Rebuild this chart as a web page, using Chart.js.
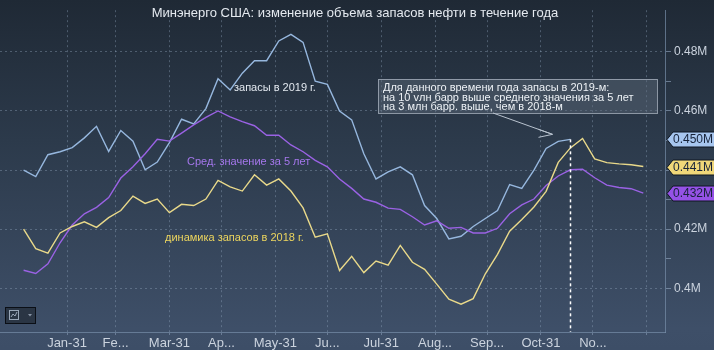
<!DOCTYPE html>
<html>
<head>
<meta charset="utf-8">
<script src="https://cdn.jsdelivr.net/npm/chart.js@4"></script>
<style>
  html, body { margin: 0; padding: 0; background: #2c3b4f; }
  #wrap {
    width: 714px; height: 350px; position: relative;
    background: linear-gradient(to bottom, #1f2935 0%, #2c3a4b 40%, #3e4f68 94%, #3d4e67 100%);
  }
</style>
</head>
<body>
<div id="wrap"><canvas id="stocksChart" width="714" height="350"></canvas></div>
<script>
// day of year for each weekly report
const weekDays = [6, 13, 20, 27, 34, 41, 48, 55, 62, 69, 76, 83, 90, 97, 104, 111, 118, 125,
    132, 139, 146, 153, 160, 167, 174, 181, 188, 195, 202, 209, 216, 223, 230, 237, 244, 251,
    258, 265, 272, 279, 286, 293, 300, 307, 314, 321, 328, 335, 342, 349, 356, 363];

// crude stocks, 2019 (data up to mid-November)
const stocks2019 = [0.4400, 0.4378, 0.4452, 0.4462, 0.4476, 0.4509, 0.4548, 0.4463, 0.4534, 0.4498,
    0.4401, 0.4427, 0.4493, 0.4572, 0.4556, 0.4608, 0.4709, 0.4671, 0.4728, 0.4770,
    0.4770, 0.4837, 0.4859, 0.4832, 0.4701, 0.4690, 0.4600, 0.4570, 0.4455, 0.4370,
    0.4394, 0.4411, 0.4384, 0.4280, 0.4236, 0.4167, 0.4176, 0.4209, 0.4236, 0.4263,
    0.4351, 0.4338, 0.4400, 0.4473, 0.4497, 0.4504];

// 5-year average
const avg5y = [0.4061, 0.4050, 0.4083, 0.4154, 0.4214, 0.4252, 0.4274, 0.4307, 0.4373, 0.4411,
    0.4455, 0.4504, 0.4498, 0.4525, 0.4553, 0.4578, 0.4600, 0.4580, 0.4564, 0.4550,
    0.4518, 0.4518, 0.4485, 0.4462, 0.4433, 0.4411, 0.4370, 0.4338, 0.4302, 0.4291,
    0.4271, 0.4267, 0.4242, 0.4214, 0.4228, 0.4203, 0.4206, 0.4187, 0.4187, 0.4203,
    0.4252, 0.4282, 0.4302, 0.4348, 0.4380, 0.4401, 0.4403, 0.4374, 0.4349, 0.4341,
    0.4337, 0.4322];

// crude stocks, 2018
const stocks2018 = [0.4200, 0.4134, 0.4119, 0.4187, 0.4209, 0.4225, 0.4206, 0.4239, 0.4263, 0.4312,
    0.4287, 0.4302, 0.4256, 0.4284, 0.4280, 0.4302, 0.4365, 0.4343, 0.4329, 0.4384,
    0.4349, 0.4370, 0.4329, 0.4272, 0.4173, 0.4184, 0.4060, 0.4108, 0.4053, 0.4092,
    0.4078, 0.4145, 0.4088, 0.4064, 0.4014, 0.3963, 0.3946, 0.3965, 0.4049, 0.4115,
    0.4193, 0.4233, 0.4275, 0.4328, 0.4426, 0.4475, 0.4507, 0.4438, 0.4425, 0.4421,
    0.4418, 0.4412];

// month-end ticks on the x axis
const monthEnds = [31, 59, 90, 120, 151, 181, 212, 243, 273, 304, 334, 365];
const monthLabels = ['Jan-31', 'Fe...', 'Mar-31', 'Ap...', 'May-31', 'Ju...', 'Jul-31',
    'Aug...', 'Sep...', 'Oct-31', 'No...', ''];

// y ticks: every 0.01, labelled at 0.02 steps
const yTicks = [0.40, 0.41, 0.42, 0.43, 0.44, 0.45, 0.46, 0.47, 0.48];

const FONT = '"Liberation Sans", Arial, sans-serif';
const BLUE = '#96b7de';
const PURPLE = '#9a62e4';
const YELLOW = '#e9d98a';

const toPoints = arr => arr.map((v, i) => ({ x: weekDays[i], y: v }));

const isMajor = v => Math.round(v * 100) % 2 === 0;

const overlay = {
    id: 'overlay',
    afterDraw(chart) {
        const { ctx, chartArea, scales } = chart;
        const xs = scales.x, ys = scales.y;
        ctx.save();

        // title
        ctx.font = '13px ' + FONT;
        ctx.fillStyle = '#e4e9ef';
        ctx.textAlign = 'center';
        ctx.textBaseline = 'middle';
        ctx.fillText('Минэнерго США: изменение объема запасов нефти в течение года', 355, 13);

        // series labels
        ctx.font = '11px ' + FONT;
        ctx.textAlign = 'left';
        ctx.fillStyle = '#e2e8ef';
        ctx.fillText('запасы в 2019 г.', 234, 88);
        ctx.fillStyle = '#a577ec';
        ctx.fillText('Сред. значение за 5 лет', 187, 162);
        ctx.fillStyle = '#ecd55e';
        ctx.fillText('динамика запасов в 2018 г.', 165, 238);

        // dotted marker at the latest 2019 report
        const last = stocks2019.length - 1;
        const lx = Math.round(xs.getPixelForValue(weekDays[last])) + 0.5;
        const ly = ys.getPixelForValue(stocks2019[last]);
        ctx.strokeStyle = '#ffffff';
        ctx.lineWidth = 1.5;
        ctx.setLineDash([3, 3]);
        ctx.beginPath();
        ctx.moveTo(lx, ly);
        ctx.lineTo(lx, chartArea.bottom);
        ctx.stroke();
        ctx.setLineDash([]);

        // comment box
        const bx = 378, by = 79, bw = 279, bh = 34;
        ctx.fillStyle = 'rgba(95,108,124,0.45)';
        ctx.fillRect(bx, by, bw, bh);
        ctx.strokeStyle = 'rgba(165,175,188,0.8)';
        ctx.lineWidth = 1;
        ctx.strokeRect(bx + 0.5, by + 0.5, bw, bh);
        ctx.fillStyle = '#eef2f6';
        ctx.font = '11px ' + FONT;
        ctx.textBaseline = 'middle';
        ctx.fillText('Для данного времени года запасы в 2019-м:', 383, 88);
        ctx.fillText('на 10 vлн барр выше среднего значения за 5 лет', 383, 97.5);
        ctx.fillText('на 3 млн барр. выше, чем в 2018-м', 383, 107);

        // arrow from the box towards the latest point
        const tx = lx - 18, ty = ly - 5;
        ctx.strokeStyle = '#b9c3cf';
        ctx.lineWidth = 1;
        ctx.beginPath();
        ctx.moveTo(493, 113);
        ctx.lineTo(tx, ty);
        ctx.moveTo(tx - 14, ty - 5);
        ctx.lineTo(tx, ty);
        ctx.lineTo(tx - 14, ty + 3);
        ctx.stroke();

        // last-value tags on the right axis
        const tags = [
            { v: stocks2019[last], fill: '#a7c6ef' },
            { v: stocks2018[stocks2018.length - 1], fill: '#f0d779' },
            { v: avg5y[avg5y.length - 1], fill: '#9552e6' }
        ];
        ctx.font = '12px ' + FONT;
        tags.forEach(t => {
            const cy = Math.round(ys.getPixelForValue(t.v)) + 0.5;
            const x0 = chartArea.right + 2;
            ctx.beginPath();
            ctx.moveTo(x0, cy);
            ctx.lineTo(x0 + 6, cy - 7.5);
            ctx.lineTo(716, cy - 7.5);
            ctx.lineTo(716, cy + 7.5);
            ctx.lineTo(x0 + 6, cy + 7.5);
            ctx.closePath();
            ctx.fillStyle = t.fill;
            ctx.fill();
            ctx.strokeStyle = '#0e1622';
            ctx.stroke();
            ctx.fillStyle = '#17233a';
            ctx.textAlign = 'left';
            ctx.fillText(t.v.toFixed(3) + 'M', x0 + 6, cy + 0.5);
        });

        // chart-type button bottom left
        ctx.fillStyle = '#2a3544';
        ctx.fillRect(5, 307, 30, 16);
        ctx.strokeStyle = '#0b0f16';
        ctx.strokeRect(5.5, 307.5, 30, 16);
        ctx.strokeStyle = '#9aa7b8';
        ctx.strokeRect(9.5, 310.5, 9, 9);
        ctx.beginPath();
        ctx.moveTo(11, 317);
        ctx.lineTo(13, 314);
        ctx.lineTo(15, 316);
        ctx.lineTo(17, 312);
        ctx.stroke();
        ctx.fillStyle = '#8793a4';
        ctx.beginPath();
        ctx.moveTo(28, 314);
        ctx.lineTo(32, 314);
        ctx.lineTo(30, 316.5);
        ctx.closePath();
        ctx.fill();

        ctx.restore();
    }
};

new Chart(document.getElementById('stocksChart'), {
    type: 'line',
    data: {
        datasets: [
            { label: '2018', data: toPoints(stocks2018), borderColor: YELLOW },
            { label: '5y', data: toPoints(avg5y), borderColor: PURPLE },
            { label: '2019', data: toPoints(stocks2019), borderColor: BLUE }
        ]
    },
    options: {
        responsive: false,
        animation: false,
        layout: { padding: 0 },
        elements: {
            line: { borderWidth: 1.4, tension: 0 },
            point: { radius: 0 }
        },
        plugins: {
            legend: { display: false },
            tooltip: { enabled: false }
        },
        scales: {
            x: {
                type: 'linear',
                min: -7.6,
                max: 375.5,
                afterBuildTicks: s => { s.ticks = monthEnds.map(v => ({ value: v })); },
                afterFit: s => { s.height = 18; },
                ticks: {
                    autoSkip: false,
                    maxRotation: 0,
                    padding: 1,
                    color: '#cbd3de',
                    font: { family: FONT, size: 13 },
                    callback: (v, i) => monthLabels[i]
                },
                grid: {
                    color: 'rgba(150,170,195,0.38)',
                    tickColor: 'rgba(150,170,195,0.5)',
                    tickLength: 3
                },
                border: { display: true, color: 'rgba(120,142,170,0.7)', dash: [2, 3] }
            },
            y: {
                position: 'right',
                min: 0.3852,
                max: 0.4941,
                afterBuildTicks: s => { s.ticks = yTicks.map(v => ({ value: v })); },
                afterFit: s => { s.width = 49; },
                ticks: {
                    padding: 3,
                    color: '#cbd3de',
                    font: { family: FONT, size: 12 },
                    callback: v => (isMajor(v) && Math.round(v * 100) !== 44)
                        ? parseFloat(v.toFixed(2)) + 'M' : ''
                },
                grid: {
                    color: c => isMajor(c.tick.value) ? 'rgba(150,170,195,0.38)' : 'rgba(0,0,0,0)',
                    tickColor: 'rgba(150,170,195,0.6)',
                    tickLength: 6
                },
                border: { display: true, color: 'rgba(120,142,170,0.7)', dash: [2, 3] }
            }
        }
    },
    plugins: [overlay]
});
</script>
</body>
</html>
